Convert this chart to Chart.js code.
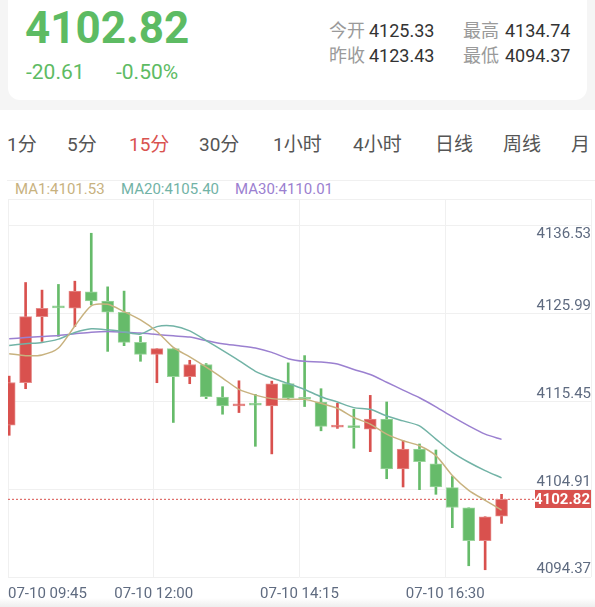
<!DOCTYPE html>
<html>
<head>
<meta charset="utf-8">
<script src="https://cdn.jsdelivr.net/npm/chart.js@4.4.0/dist/chart.umd.min.js"></script>
<style>
  body { margin: 0; width: 595px; height: 607px; overflow: hidden; position: relative; background: #fff;
         font-family: Roboto, "Noto Sans CJK SC", sans-serif; }
  .abs { position: absolute; white-space: nowrap; }
  .top { left: 0; top: 0; width: 595px; height: 110px; background: #f5f5f5; }
  .card { left: 8px; top: 0; width: 579px; height: 100px; background: #fff; border-radius: 0 0 12px 12px; }
  .price { left: 25px; top: 2px; font-size: 44px; line-height: 52px; font-weight: bold; color: #5dbb63; }
  .chg { top: 60px; font-size: 21px; line-height: 25px; color: #5dbb63; }
  .k { font-size: 18px; line-height: 22px; color: #9a9a9a; }
  .v { font-size: 18px; line-height: 22px; color: #333; }
  .tab { top: 133px; font-size: 19px; line-height: 24px; color: #555; }
  .sep { left: 7px; top: 180px; width: 588px; height: 1px; background: #f0f0f0; }
  .lg { top: 180px; font-size: 15px; line-height: 18px; }
  .shade { left: 0; top: 598px; width: 595px; height: 9px; background: linear-gradient(#fff, #eeeeee); }
  #wrap { position: absolute; left: 0; top: 190px; width: 599px; height: 426px; }
</style>
</head>
<body>
<div class="abs top"></div>
<div class="abs card"></div>
<div class="abs price">4102.82</div>
<div class="abs chg" style="left:26px">-20.61</div>
<div class="abs chg" style="left:116px">-0.50%</div>
<div class="abs k" style="left:329px;top:20px">今开</div>
<div class="abs v" style="left:369px;top:20px">4125.33</div>
<div class="abs k" style="left:463px;top:20px">最高</div>
<div class="abs v" style="left:505px;top:20px">4134.74</div>
<div class="abs k" style="left:329px;top:45px">昨收</div>
<div class="abs v" style="left:369px;top:45px">4123.43</div>
<div class="abs k" style="left:463px;top:45px">最低</div>
<div class="abs v" style="left:505px;top:45px">4094.37</div>

<div class="abs tab" style="left:7px">1分</div>
<div class="abs tab" style="left:67px">5分</div>
<div class="abs tab" style="left:129px;color:#d9534f">15分</div>
<div class="abs tab" style="left:199px">30分</div>
<div class="abs tab" style="left:273px">1小时</div>
<div class="abs tab" style="left:353px">4小时</div>
<div class="abs tab" style="left:435px">日线</div>
<div class="abs tab" style="left:503px">周线</div>
<div class="abs tab" style="left:571px">月</div>

<div class="abs sep"></div>
<div class="abs lg" style="left:15px;color:#c8b27f">MA1:4101.53</div>
<div class="abs lg" style="left:121px;color:#72b3a6">MA20:4105.40</div>
<div class="abs lg" style="left:235px;color:#9b80d0">MA30:4110.01</div>
<div class="abs shade"></div>
<div id="wrap"><canvas id="kline"></canvas></div>

<script>
const times = ['09:45', '10:00', '10:15', '10:30', '10:45', '11:00', '11:15', '11:30', '11:45', '12:00',
  '12:15', '12:30', '12:45', '13:00', '13:15', '13:30', '13:45', '14:00', '14:15', '14:30',
  '14:45', '15:00', '15:15', '15:30', '15:45', '16:00', '16:15', '16:30', '16:45', '17:00', '17:15'];
const opens = [4111.72, 4116.81, 4124.74, 4125.93, 4125.74, 4127.72, 4126.61, 4125.26, 4121.64, 4120.21,
  4120.89, 4117.52, 4118.99, 4115.09, 4114.03, 4114.28, 4114.02, 4116.72, 4114.98, 4114.50,
  4111.48, 4111.63, 4111.24, 4112.44, 4106.48, 4108.86, 4107.08, 4104.22, 4101.80, 4097.87, 4100.80];
const highs = [4117.60, 4128.83, 4127.92, 4128.60, 4128.99, 4134.74, 4128.31, 4127.80, 4122.36, 4120.89,
  4120.89, 4119.50, 4119.11, 4116.33, 4117.04, 4115.41, 4117.00, 4119.19, 4120.06, 4116.09,
  4114.34, 4113.63, 4115.29, 4114.50, 4109.85, 4109.46, 4108.74, 4105.56, 4101.80, 4100.73, 4103.42];
const lows = [4110.50, 4116.09, 4121.76, 4122.36, 4123.55, 4126.13, 4120.57, 4121.25, 4119.38, 4116.81,
  4112.04, 4116.69, 4114.90, 4113.03, 4113.23, 4109.18, 4108.27, 4114.82, 4113.95, 4111.04,
  4111.33, 4108.95, 4108.54, 4105.29, 4104.30, 4103.98, 4103.42, 4099.42, 4094.85, 4094.37, 4099.93];
const closes = [4116.84, 4124.74, 4125.74, 4125.78, 4127.80, 4126.61, 4125.26, 4121.64, 4120.21, 4120.89,
  4117.52, 4118.99, 4115.14, 4114.02, 4114.18, 4114.13, 4116.69, 4114.94, 4114.83, 4111.57,
  4111.63, 4111.43, 4112.44, 4106.48, 4108.86, 4107.35, 4104.30, 4101.84, 4097.87, 4100.73, 4102.82];
const ma1 = [4120.29, 4120.05, 4120.14, 4120.97, 4123.62, 4126.04, 4126.21, 4125.33, 4124.34, 4122.95,
  4121.04, 4119.90, 4118.68, 4117.37, 4116.00, 4115.32, 4114.90, 4114.81, 4114.81, 4114.34,
  4113.74, 4112.63, 4111.84, 4110.64, 4109.85, 4109.25, 4108.06, 4105.68, 4103.89, 4102.70, 4101.53];
const ma20 = [4121.28, 4121.48, 4121.64, 4122.04, 4122.83, 4123.27, 4123.15, 4122.91, 4122.64, 4123.54,
  4123.62, 4123.03, 4121.87, 4120.68, 4119.46, 4118.18, 4117.37, 4116.72, 4116.00, 4115.13,
  4114.49, 4113.82, 4113.62, 4112.82, 4112.23, 4111.63, 4110.05, 4108.46, 4107.27, 4106.27, 4105.40];
const ma30 = [4122.08, 4122.23, 4122.35, 4122.47, 4122.67, 4122.87, 4122.95, 4122.87, 4122.76, 4122.59,
  4122.43, 4122.28, 4121.87, 4121.48, 4121.24, 4120.97, 4120.45, 4119.69, 4119.37, 4119.30,
  4119.06, 4118.39, 4117.79, 4116.87, 4115.92, 4115.01, 4113.92, 4112.73, 4111.63, 4110.64, 4110.01];
const yTickLabels = ['4094.37', '4104.91', '4115.45', '4125.99', '4136.53'];
const xTickLabels = ['07-10 09:45', '07-10 12:00', '07-10 14:15', '07-10 16:30', ''];
const lastPrice = 4102.82;

const RED = '#d9514e', GREEN = '#66bb6a';
const xMin = -0.073, xMax = 35.45;
const yMin = 4093.50, yMax = 4138.85;
const yStep = (yTickLabels[4] - yTickLabels[0]) / 4;

const upColor = (i) => closes[i] >= opens[i] ? RED : GREEN;
const upBorder = (i) => closes[i] >= opens[i] ? '#e58a88' : '#9ad49c';

// red box with the last price, on the right edge of the plot
const priceTag = {
  id: 'priceTag',
  afterDatasetsDraw(chart) {
    const { ctx, chartArea } = chart;
    const y = Math.round(chart.scales.y.getPixelForValue(lastPrice));
    ctx.save();
    ctx.fillStyle = RED;
    ctx.fillRect(chartArea.right - 56, y - 9, 56, 18);
    ctx.fillStyle = '#fff';
    ctx.font = 'bold 15px Roboto';
    ctx.textAlign = 'right';
    ctx.textBaseline = 'middle';
    ctx.fillText(lastPrice.toFixed(2), chartArea.right - 1, y + 1);
    ctx.restore();
  }
};

const labelAxis = (vals, offset) => ({
  type: 'linear', position: 'right', min: yMin, max: yMax, display: true,
  grid: { display: false, drawTicks: false }, border: { display: false },
  afterBuildTicks: (s) => { s.ticks = vals.map(v => ({ value: parseFloat(v) })); },
  ticks: {
    mirror: true, padding: 0, autoSkip: false, labelOffset: offset,
    color: '#5f6b80', font: { family: 'Roboto', size: 15 },
    callback: (v, i) => vals[i]
  }
});

const lineSet = (vals, color) => ({
  type: 'line', data: vals.map((v, i) => ({ x: i, y: v })), borderColor: color, borderWidth: 1.5,
  pointRadius: 0, tension: 0.25, yAxisID: 'y', clip: 0, order: 0
});

new Chart(document.getElementById('kline'), {
  type: 'bar',
  data: {
    datasets: [
      lineSet(ma1, '#c8b27f'),
      lineSet(ma20, '#72b3a6'),
      lineSet(ma30, '#9b80d0'),
      {
        type: 'line', data: [{ x: xMin, y: lastPrice }, { x: xMax, y: lastPrice }],
        borderColor: RED, borderWidth: 1, borderDash: [2, 2], pointRadius: 0, yAxisID: 'y', order: 3
      },
      {
        data: times.map((t, i) => ({ x: i, y: [opens[i], closes[i]] })),
        backgroundColor: (c) => upColor(c.dataIndex), borderColor: (c) => upBorder(c.dataIndex),
        borderWidth: 1, borderSkipped: false, barThickness: 12, minBarLength: 2,
        grouped: false, yAxisID: 'y', clip: 0, order: 1
      },
      {
        data: times.map((t, i) => ({ x: i, y: [lows[i], highs[i]] })),
        backgroundColor: (c) => upColor(c.dataIndex), borderWidth: 0,
        barThickness: 2, grouped: false, yAxisID: 'y', clip: 0, order: 2
      }
    ]
  },
  options: {
    responsive: true, maintainAspectRatio: false, animation: false,
    layout: { padding: { left: 7, right: 2, top: 5, bottom: 5 } },
    plugins: { legend: { display: false }, tooltip: { enabled: false } },
    scales: {
      x: {
        type: 'linear', min: xMin, max: xMax, offset: false,
        grid: { color: '#f0f0f0', offset: false, drawTicks: false }, border: { display: false },
        afterBuildTicks: (s) => {
          s.ticks = xTickLabels.map((l, k) => ({ value: xMin + k * (xMax - xMin) / 4 }));
        },
        ticks: {
          align: 'inner', padding: 8, autoSkip: false, maxRotation: 0,
          color: '#5f6b80', font: { family: 'Roboto', size: 15 },
          callback: (v, i) => xTickLabels[i]
        }
      },
      y: {
        type: 'linear', position: 'left', min: yMin, max: yMax, beginAtZero: false,
        grid: { color: '#f0f0f0', drawTicks: false }, border: { display: false },
        afterBuildTicks: (s) => {
          s.ticks = [0, 1, 2, 3, 4].map(k => ({ value: yMin + k * yStep })).concat([{ value: yMax }]);
        },
        ticks: { display: false }
      },
      yl: labelAxis(yTickLabels.slice(0, 4), 0),
      yt: labelAxis(yTickLabels.slice(4), 16)
    }
  },
  plugins: [priceTag]
});
</script>
</body>
</html>
